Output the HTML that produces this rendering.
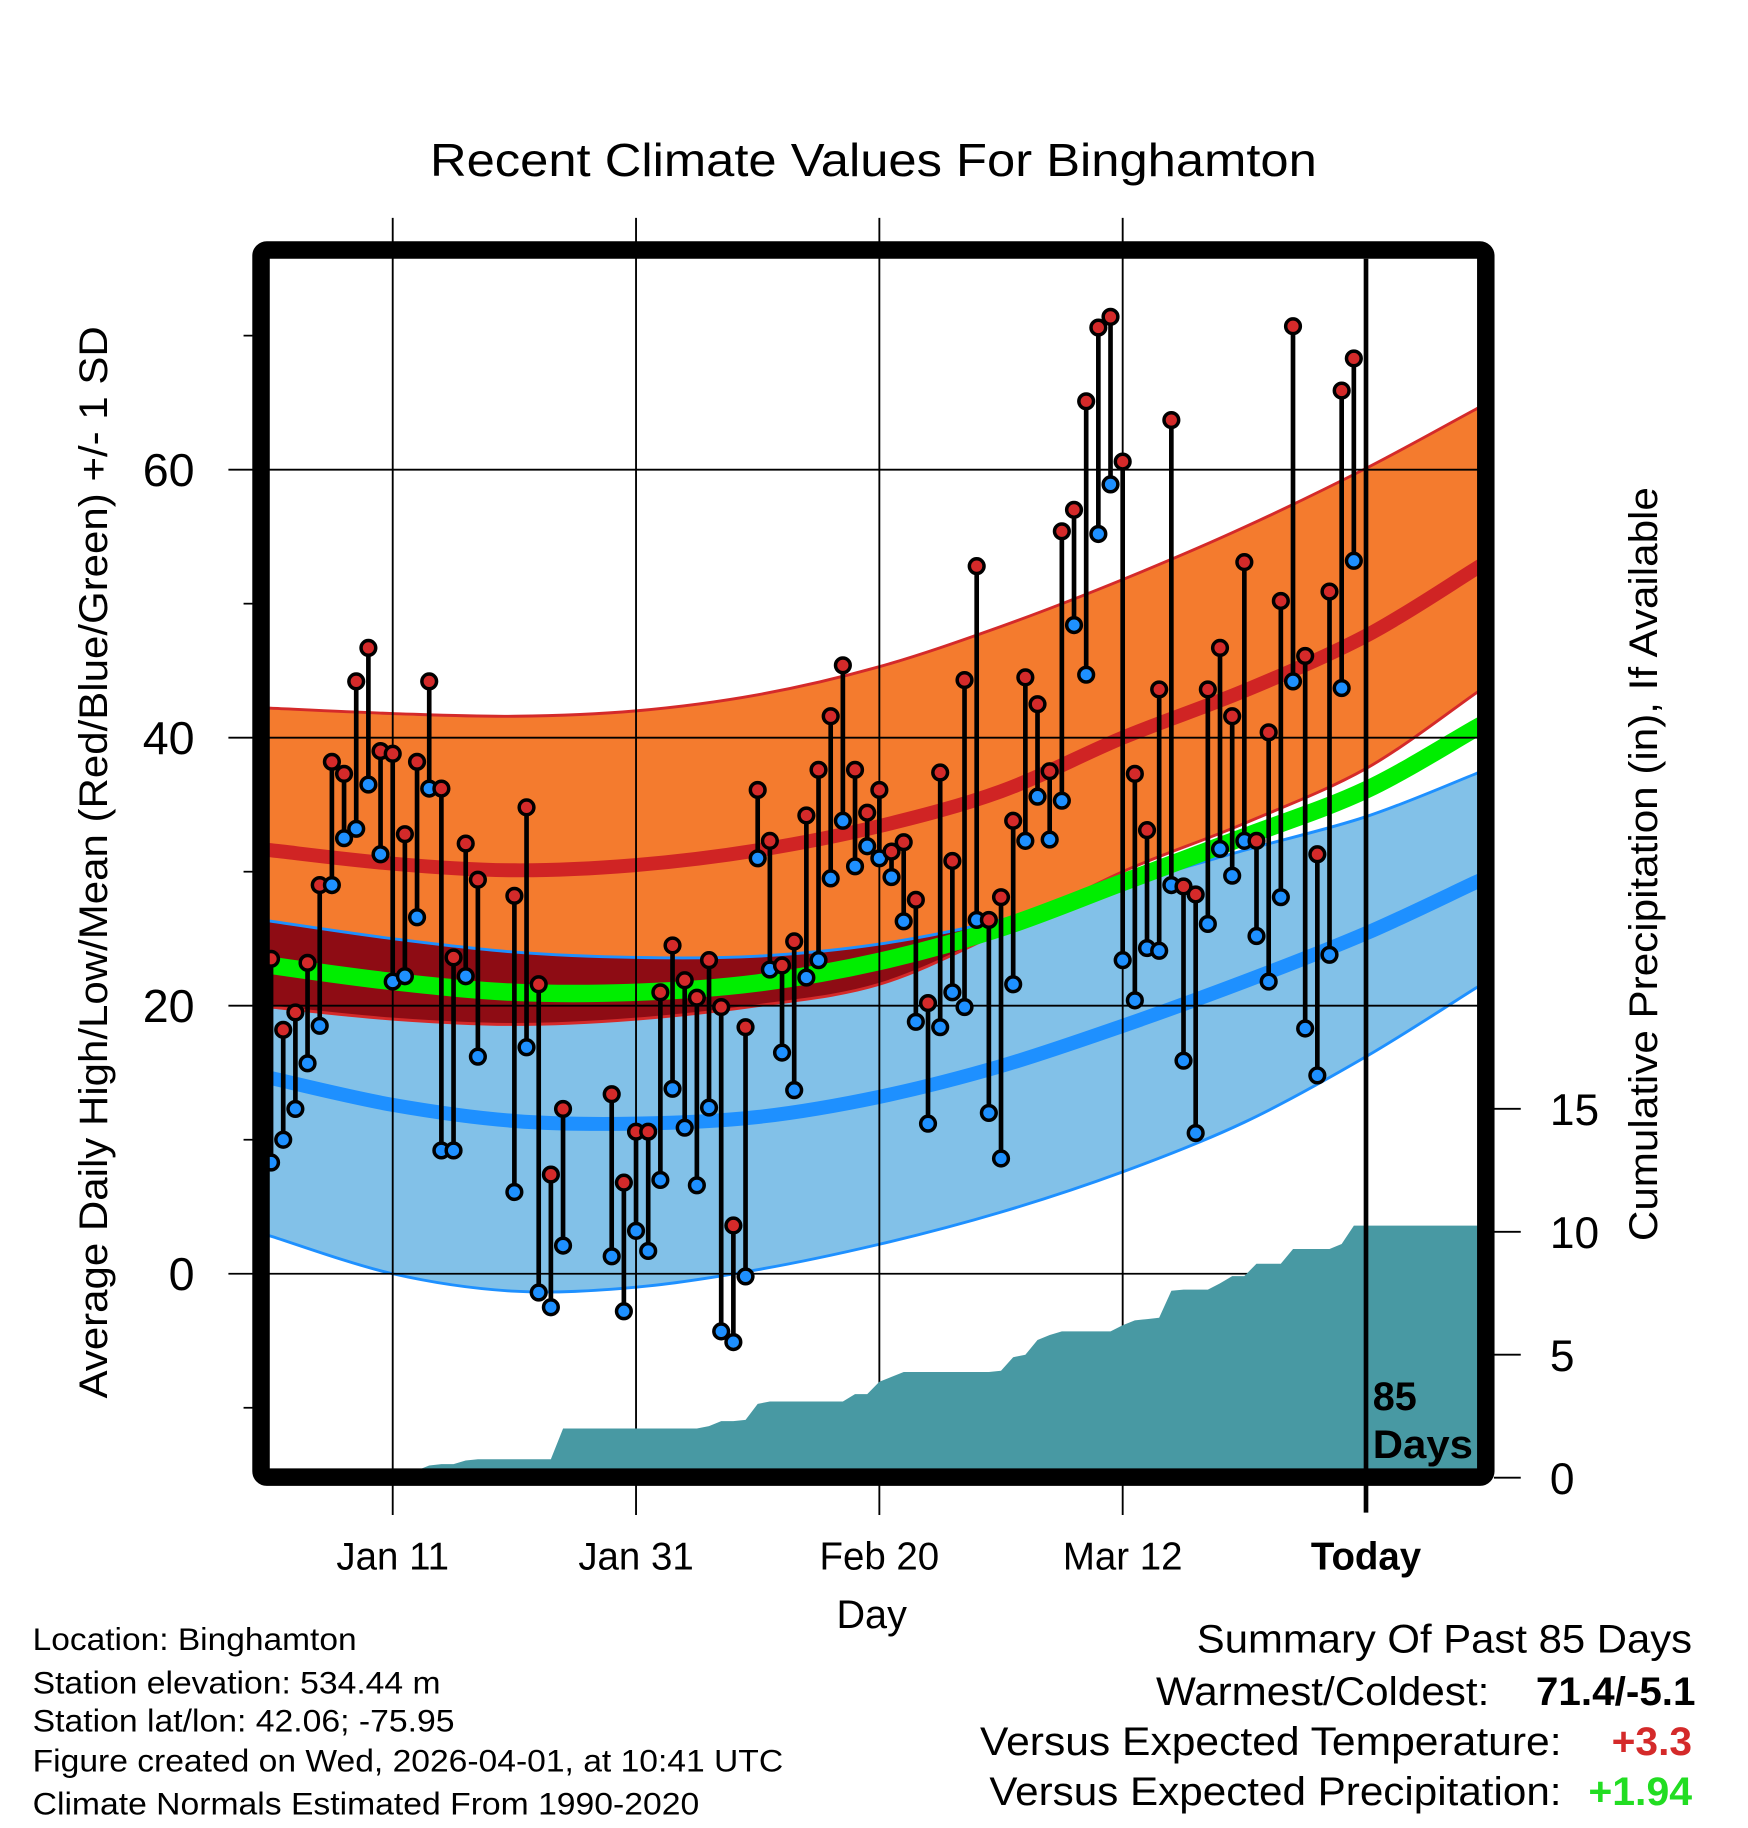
<!DOCTYPE html>
<html><head><meta charset="utf-8"><style>html,body{margin:0;padding:0;background:#fff}svg{display:block}text{font-family:"Liberation Sans",sans-serif}</style></head>
<body>
<svg id="chart" xmlns="http://www.w3.org/2000/svg" width="1748" height="1828" viewBox="0 0 1500 1568.6" preserveAspectRatio="none">
<defs><clipPath id="plotclip"><rect x="231" y="222" width="1037" height="1046"/></clipPath></defs>
<text x="369" y="151" font-size="40" textLength="761" lengthAdjust="spacingAndGlyphs">Recent Climate Values For Binghamton</text>
<g id="bands" clip-path="url(#plotclip)"></g>
<g id="grid"></g>
<g id="precip" clip-path="url(#plotclip)"></g>
<g id="obs"></g>
<g id="axes"></g>
<text transform="translate(92,1200) rotate(-90)" font-size="34" textLength="920" lengthAdjust="spacingAndGlyphs">Average Daily High/Low/Mean (Red/Blue/Green) +/- 1 SD</text>
<text transform="translate(1422,1065) rotate(-90)" font-size="34" textLength="647" lengthAdjust="spacingAndGlyphs">Cumulative Precipitation (in), If Available</text>
<text x="748" y="1397" font-size="34" text-anchor="middle">Day</text>
<text x="1178" y="1210" font-size="34" font-weight="bold">85</text>
<text x="1178" y="1251" font-size="34" font-weight="bold" textLength="86" lengthAdjust="spacingAndGlyphs">Days</text>
<g font-size="27">
<text x="28" y="1416" textLength="278" lengthAdjust="spacingAndGlyphs">Location: Binghamton</text>
<text x="28" y="1453" textLength="350" lengthAdjust="spacingAndGlyphs">Station elevation: 534.44 m</text>
<text x="28" y="1486" textLength="362" lengthAdjust="spacingAndGlyphs">Station lat/lon: 42.06; -75.95</text>
<text x="28" y="1520" textLength="644" lengthAdjust="spacingAndGlyphs">Figure created on Wed, 2026-04-01, at 10:41 UTC</text>
<text x="28" y="1557" textLength="572" lengthAdjust="spacingAndGlyphs">Climate Normals Estimated From 1990-2020</text>
</g>
<g font-size="34">
<text x="1027" y="1418" textLength="425" lengthAdjust="spacingAndGlyphs">Summary Of Past 85 Days</text>
<text x="992" y="1463" textLength="286" lengthAdjust="spacingAndGlyphs">Warmest/Coldest:</text>
<text x="1318" y="1463" font-weight="bold" textLength="137" lengthAdjust="spacingAndGlyphs">71.4/-5.1</text>
<text x="841" y="1506" textLength="499" lengthAdjust="spacingAndGlyphs">Versus Expected Temperature:</text>
<text x="1383" y="1506" font-weight="bold" fill="#d42a2a" textLength="69" lengthAdjust="spacingAndGlyphs">+3.3</text>
<text x="849" y="1549" textLength="491" lengthAdjust="spacingAndGlyphs">Versus Expected Precipitation:</text>
<text x="1363" y="1549" font-weight="bold" fill="#22dd22" textLength="89" lengthAdjust="spacingAndGlyphs">+1.94</text>
</g>
</svg>
<script>
// ---- data ----
const xTickDays = [10, 30, 50, 70, 90];
const xTickLabels = ["Jan 11", "Jan 31", "Feb 20", "Mar 12", "Today"];
const yTickValues = [0, 20, 40, 60];
const yMinorValues = [-10, 10, 30, 50, 70];
const y2TickValues = [0, 5, 10, 15];
const todayDay = 90;
const normalDays = [0, 10, 20, 30, 40, 50, 60, 70, 80, 90, 99];
const normHighMean = [31.6, 30.6, 30.1, 30.5, 31.6, 33.4, 36.0, 40.0, 43.5, 47.6, 52.6];
const normHighUpper = [42.2, 41.8, 41.6, 42.0, 43.2, 45.3, 48.3, 51.8, 55.7, 60.1, 64.5];
const normHighLower = [19.9, 19.0, 18.6, 19.0, 20.0, 21.6, 25.5, 30.0, 33.6, 37.7, 43.3];
const normLowMean = [14.6, 12.6, 11.4, 11.2, 11.7, 13.2, 15.5, 18.5, 21.8, 25.4, 29.2];
const normLowUpper = [26.3, 25.0, 24.0, 23.6, 23.7, 24.6, 26.4, 29.0, 31.6, 34.1, 37.3];
const normLowLower = [2.8, 0.0, -1.3, -1.0, 0.3, 2.2, 4.6, 7.6, 11.3, 16.2, 21.3];
const normMean = [23.0, 21.8, 21.0, 21.0, 21.7, 23.3, 25.8, 29.2, 32.6, 36.1, 40.7];
const highs = [23.5,18.2,19.5,23.2,29,38.2,37.3,44.2,46.7,39,38.8,32.8,38.2,44.2,36.2,23.6,32.1,29.4,null,null,28.2,34.8,21.6,7.4,12.3,null,null,null,13.4,6.8,10.6,10.6,21,24.5,21.9,20.6,23.4,19.9,3.6,18.4,36.1,32.3,23,24.8,34.2,37.6,41.6,45.4,37.6,34.4,36.1,31.5,32.2,27.9,20.2,37.4,30.8,44.3,52.8,26.4,28.1,33.8,44.5,42.5,37.5,55.4,57,65.1,70.6,71.4,60.6,37.3,33.1,43.6,63.7,28.9,28.3,43.6,46.7,41.6,53.1,32.3,40.4,50.2,70.7,46.1,31.3,50.9,65.9,68.3];
const lows = [8.3,10,12.3,15.7,18.5,29,32.5,33.2,36.5,31.3,21.8,22.2,26.6,36.2,9.2,9.2,22.2,16.2,null,null,6.1,16.9,-1.4,-2.5,2.1,null,null,null,1.3,-2.8,3.2,1.7,7,13.8,10.9,6.6,12.4,-4.3,-5.1,-0.2,31,22.7,16.5,13.7,22.1,23.4,29.5,33.8,30.4,31.9,31,29.6,26.3,18.8,11.2,18.4,21,19.9,26.4,12,8.6,21.6,32.3,35.6,32.4,35.3,48.4,44.7,55.2,58.9,23.4,20.4,24.3,24.1,29,15.9,10.5,26.1,31.7,29.7,32.3,25.2,21.8,28.1,44.2,18.3,14.8,23.8,43.7,53.2];
const cumPrecip = [0,0,0,0,0,0,0,0,0,0,0.05,0.05,0.3,0.5,0.55,0.55,0.7,0.75,0.75,0.75,0.75,0.75,0.75,0.75,2.0,2.0,2.0,2.0,2.0,2.0,2.0,2.0,2.0,2.0,2.0,2.0,2.1,2.3,2.3,2.35,3.0,3.1,3.1,3.1,3.1,3.1,3.1,3.1,3.4,3.4,3.9,4.1,4.3,4.3,4.3,4.3,4.3,4.3,4.3,4.3,4.35,4.9,5.0,5.6,5.8,5.95,5.95,5.95,5.95,5.95,6.2,6.4,6.45,6.5,7.6,7.65,7.65,7.65,7.9,8.2,8.2,8.7,8.7,8.7,9.3,9.3,9.3,9.3,9.5,10.25];

// ---- scales ----
const PL = 231, PR = 1268, PT = 222, PB = 1268;
const xS = d => 232.6 + d * 10.44;
const yS = t => 1093 - t * 11.5;
const pS = p => 1268 - p * 21.1;
const NS = 'http://www.w3.org/2000/svg';
function mk(tag, attrs, parent) { const e = document.createElementNS(NS, tag); for (const k in attrs) e.setAttribute(k, attrs[k]); parent.appendChild(e); return e; }

function pts(vals) { return normalDays.map((d, i) => [xS(d), yS(vals[i])]); }
function smoothPath(p, move) {
  let s = (move ? 'M' : 'L') + p[0][0].toFixed(1) + ',' + p[0][1].toFixed(1);
  for (let i = 0; i < p.length - 1; i++) {
    const p0 = p[Math.max(i - 1, 0)], p1 = p[i], p2 = p[i + 1], p3 = p[Math.min(i + 2, p.length - 1)];
    const c1 = [p1[0] + (p2[0] - p0[0]) / 6, p1[1] + (p2[1] - p0[1]) / 6];
    const c2 = [p2[0] - (p3[0] - p1[0]) / 6, p2[1] - (p3[1] - p1[1]) / 6];
    s += 'C' + c1.map(v => v.toFixed(1)).join(',') + ' ' + c2.map(v => v.toFixed(1)).join(',') + ' ' + p2[0].toFixed(1) + ',' + p2[1].toFixed(1);
  }
  return s;
}
function extend(p) { const a = p.slice(); a.unshift([PL - 5, a[0][1] + (a[0][1] - a[1][1]) * (a[0][0] - PL + 5) / (a[1][0] - a[0][0])]); const n = a.length; a.push([PR + 5, a[n - 1][1] + (a[n - 1][1] - a[n - 2][1]) * 6 / (a[n - 1][0] - a[n - 2][0])]); return a; }
function line(vals) { return smoothPath(extend(pts(vals)), true); }
function band(up, lo) { return smoothPath(extend(pts(up)), true) + smoothPath(extend(pts(lo)).reverse(), false) + 'Z'; }

const bands = document.getElementById('bands');
const defs = document.querySelector('defs');
const cp = mk('clipPath', { id: 'hiclip' }, defs);
mk('path', { d: band(normHighUpper, normHighLower) }, cp);
let e;
e = mk('path', { d: band(normHighUpper, normHighLower), fill: '#f47b2e' }, bands);
 
e = mk('path', { d: band(normLowUpper, normLowLower), fill: '#82c1e8' }, bands);
 
e = mk('path', { d: band(normLowUpper, normLowLower), fill: '#8e0c14', 'clip-path': 'url(#hiclip)' }, bands);
 
[[normHighUpper, '#d42a2a', 2.5, 'high-upper-edge'], [normHighLower, '#d42a2a', 2.5, 'high-lower-edge'], [normLowUpper, '#1e90ff', 2.5, 'low-upper-edge'], [normLowLower, '#1e90ff', 2.5, 'low-lower-edge'], [normHighMean, '#d02424', 12, 'normal-high-line'], [normLowMean, '#1e90ff', 12, 'normal-low-line'], [normMean, '#00ee00', 15, 'normal-mean-line']].forEach(([v, c, w, n]) => {
  const el = mk('path', { d: line(v), fill: 'none', stroke: c, 'stroke-width': w }, bands);
  
  
});

// grid
const grid = document.getElementById('grid');
yTickValues.forEach(v => { const el = mk('line', { x1: 196, x2: PR, y1: yS(v), y2: yS(v), stroke: '#000', 'stroke-width': 1.6 }, grid);   });
xTickDays.forEach((d, i) => { if (i < xTickDays.length - 1) { const el = mk('line', { x1: xS(d), x2: xS(d), y1: 187, y2: 1300, stroke: '#000', 'stroke-width': 1.6 }, grid);   } });

// precip
const pg = document.getElementById('precip');
let pp = 'M' + PL + ',' + PB + ' L' + PL + ',' + pS(cumPrecip[0]);
cumPrecip.forEach((v, i) => { pp += ' L' + xS(i).toFixed(1) + ',' + pS(v).toFixed(1); });
pp += ' L' + PR + ',' + pS(cumPrecip[cumPrecip.length - 1]).toFixed(1) + ' L' + PR + ',' + PB + ' Z';
e = mk('path', { d: pp, fill: '#4899a3' }, pg);
 

// observations
const og = document.getElementById('obs');
highs.forEach((h, i) => {
  const l = lows[i];
  if (h === null || l === null) return;
  const g = mk('g', {}, og);
  
  
  mk('line', { x1: xS(i), x2: xS(i), y1: yS(h), y2: yS(l), stroke: '#000', 'stroke-width': 4 }, g);
  const hm = mk('circle', { cx: xS(i), cy: yS(h), r: 6.3, fill: '#d42a2a', stroke: '#000', 'stroke-width': 3 }, g);
   
  const lm = mk('circle', { cx: xS(i), cy: yS(l), r: 6.3, fill: '#1e90ff', stroke: '#000', 'stroke-width': 3 }, g);
   
});
e = mk('line', { x1: xS(todayDay), x2: xS(todayDay), y1: PT, y2: PB + 30, stroke: '#000', 'stroke-width': 4 }, og);
 

// axes
const ax = document.getElementById('axes');
e = mk('rect', { x: 224, y: 214.5, width: 1051, height: 1053, rx: 5, fill: 'none', stroke: '#000', 'stroke-width': 15 }, ax);
 
yMinorValues.forEach(v => { mk('line', { x1: 209, x2: 218, y1: yS(v), y2: yS(v), stroke: '#000', 'stroke-width': 1.5 }, ax); });
yTickValues.forEach(v => { const t = mk('text', { x: 167, y: yS(v) + 14, 'font-size': 40, 'text-anchor': 'end' }, ax); t.textContent = v;   });
y2TickValues.forEach(v => {
  mk('line', { x1: 1282, x2: 1305, y1: pS(v), y2: pS(v), stroke: '#000', 'stroke-width': 1.6 }, ax);
  const t = mk('text', { x: 1330, y: pS(v) + 14, 'font-size': 38 }, ax); t.textContent = v;
   
});
xTickDays.forEach((d, i) => {
  const t = mk('text', { x: xS(d), y: 1347, 'font-size': 33, 'text-anchor': 'middle' }, ax); t.textContent = xTickLabels[i];
  if (d === todayDay) t.setAttribute('font-weight', 'bold');
   
});
</script>
</body></html>
